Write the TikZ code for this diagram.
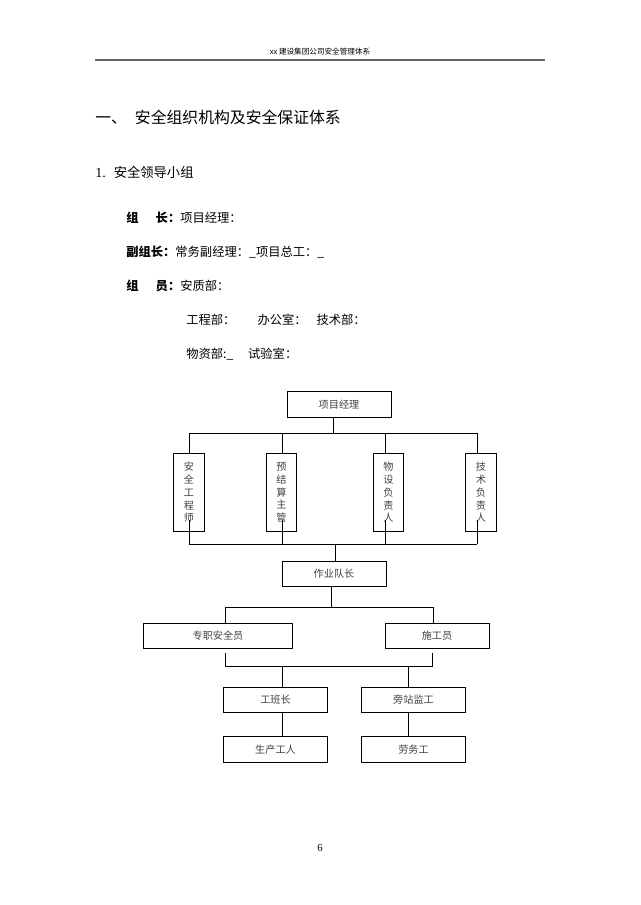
\documentclass[tikz,border=0pt]{standalone}
\usepackage{fontspec}
\setmainfont{Liberation Serif}
\newfontfamily\cjk{Noto Sans CJK SC}[Scale=0.95]
\usetikzlibrary{positioning}
\tikzset{
  post/.style={draw, line width=0.6pt, inner sep=0pt, font=\cjk\fontsize{8}{9}\selectfont, text=black!75},
  hbox/.style={post, minimum width=78pt, minimum height=19pt},
  vbox/.style={post, minimum width=23pt, minimum height=58pt, align=center, font=\cjk\fontsize{8}{9.6}\selectfont},
  link/.style={line width=0.6pt}
}
\begin{document}
\begin{tikzpicture}[x=0.75pt,y=0.75pt,yscale=-1,xscale=1]
\useasboundingbox (0,0) rectangle (640,905);

% page header
\node (head) at (320,52) {\cjk\fontsize{6}{7}\selectfont xx 建设集团公司安全管理体系};
\draw [black!60, line width=1.2pt] (95,60) -- (545,60);

% text part
\node (title) [anchor=west, inner sep=0pt] at (95,117) {\cjk\fontsize{12.5}{14}\selectfont 一、\hspace{6pt}安全组织机构及安全保证体系};
\node (sub) [anchor=west, inner sep=0pt] at (95,172) {\fontsize{10.5}{12}\selectfont 1.\hspace{6pt}\cjk 安全领导小组};
\node (l1) [anchor=west, inner sep=0pt] at (126,218) {\cjk\fontsize{9.7}{12}\selectfont\textbf{组\hspace{1.4em}长：}项目经理：};
\node (l2) [anchor=west, inner sep=0pt] at (126,252) {\cjk\fontsize{9.7}{12}\selectfont\textbf{副组长：}常务副经理：\_项目总工：\_};
\node (l3) [anchor=west, inner sep=0pt] at (126,286) {\cjk\fontsize{9.7}{12}\selectfont\textbf{组\hspace{1.4em}员：}安质部：};
\node (l4) [anchor=west, inner sep=0pt] at (186,320) {\cjk\fontsize{9.7}{12}\selectfont 工程部：\hspace{1.8em}办公室：\hspace{0.8em}技术部：};
\node (l5) [anchor=west, inner sep=0pt] at (186,354) {\cjk\fontsize{9.7}{12}\selectfont 物资部:\_\hspace{1.2em}试验室：};

% chart
\node (pm) [hbox] at (339,404.5) {项目经理};
\node (aq) [vbox] at (189,492.5) {安\\全\\工\\程\\师};
\node (ys) [vbox] at (281.5,492.5) {预\\结\\算\\主\\管};
\node (wz) [vbox] at (388.5,492.5) {物\\设\\负\\责\\人};
\node (js) [vbox] at (481,492.5) {技\\术\\负\\责\\人};
\node (dz) [hbox] at (334,574) {作业队长};
\node (zz) [hbox, minimum width=112pt] at (218,636) {专职安全员};
\node (sg) [hbox] at (437,636) {施工员};
\node (bz) [hbox] at (275.5,700) {工班长};
\node (pz) [hbox] at (413.5,700) {旁站监工};
\node (sc) [hbox] at (275.5,749.5) {生产工人};
\node (lw) [hbox] at (413.5,749.5) {劳务工};

\draw [link] (pm.south -| 333,0) -- (333,433);
\draw [link] (189,433) -- (477,433);
\foreach \b/\x in {aq/189, ys/282, wz/385, js/477}{
  \draw [link] (\x,433) -- (\b.north -| \x,0);
  \draw [link] (\x,520) -- (\x,544);
}
\draw [link] (189,544) -- (477,544);
\draw [link] (335,544) -- (dz.north -| 335,0);
\draw [link] (dz.south -| 331,0) -- (331,607);
\draw [link] (225,607) -- (433,607);
\draw [link] (225,607) -- (zz.north -| 225,0);
\draw [link] (433,607) -- (sg.north -| 433,0);
\draw [link] (225,653) -- (225,666) -- (432,666) -- (432,653);
\draw [link] (282,666) -- (bz.north -| 282,0);
\draw [link] (408,666) -- (pz.north -| 408,0);
\draw [link] (bz.south -| 282,0) -- (sc.north -| 282,0);
\draw [link] (pz.south -| 408,0) -- (lw.north -| 408,0);

% page number
\node (page) at (320,848) {\fontsize{8}{9}\selectfont 6};
\end{tikzpicture}
\end{document}
